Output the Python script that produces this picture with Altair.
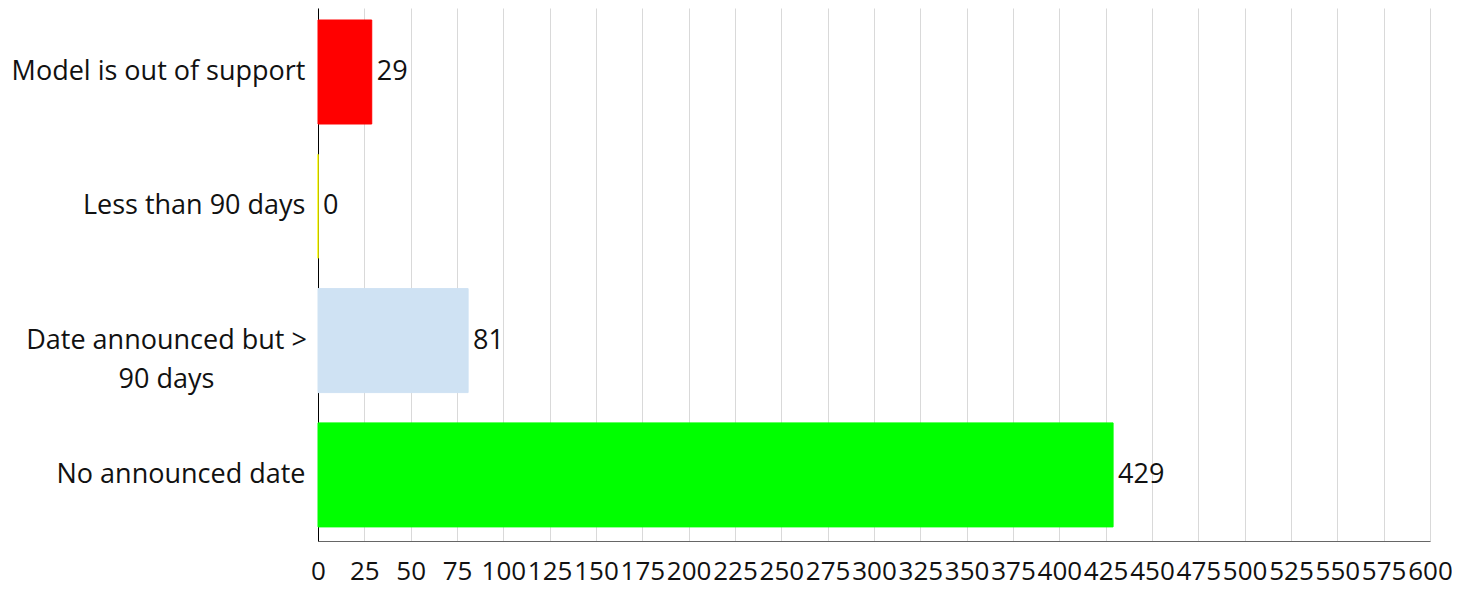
import altair as alt
import pandas as pd

categories = ["Model is out of support", "Less than 90 days", "Date announced but > 90 days", "No announced date"]
values = [29, 0, 81, 429]
colors = ["#ff0000", "#ffff00", "#cfe2f3", "#00ff00"]
x_ticks = [0, 25, 50, 75, 100, 125, 150, 175, 200, 225, 250, 275, 300, 325, 350, 375, 400, 425, 450, 475, 500, 525, 550, 575, 600]

df = pd.DataFrame({"cat": categories, "val": values})

FONT = "Open Sans"
FS = 27
WRAP = "Date announced but > 90 days"

yscale = alt.Scale(paddingInner=0.2256, paddingOuter=0.0972, align=0.46)
cscale = alt.Scale(domain=categories, range=colors)

y_enc = alt.Y("cat:N", sort=None, scale=yscale, title=None,
              axis=alt.Axis(
                  domainColor="#000000", domainWidth=1, ticks=False, tickSize=0,
                  labelFont=FONT, labelFontSize=FS, labelColor="#111111",
                  labelLimit=0, labelLineHeight=39,
                  labelExpr="datum.value == '" + WRAP + "' ? ['Date announced but >', '90 days'] : datum.value",
                  labelAlign=alt.condition("datum.value == '" + WRAP + "'", alt.value("center"), alt.value("right")),
                  labelPadding=alt.condition("datum.value == '" + WRAP + "'", alt.value(152), alt.value(13)),
                  grid=False))

x_enc = alt.X("val:Q", scale=alt.Scale(domain=[0, 600], nice=False), title=None,
              axis=alt.Axis(values=x_ticks, grid=True, gridColor="#d9d9d9", gridWidth=1,
                            domainColor="#666666", ticks=False, tickSize=0,
                            labelFont=FONT, labelFontSize=26, labelColor="#111111",
                            labelPadding=17, labelOverlap=False, labelFlush=False,
                            labelBound=False))

bars = alt.Chart(df).mark_bar(strokeWidth=1).encode(
    x=x_enc, y=y_enc,
    color=alt.Color("cat:N", scale=cscale, legend=None),
    stroke=alt.Stroke("cat:N", scale=cscale, legend=None),
)

text = alt.Chart(df).mark_text(align="left", baseline="middle", dx=5, font=FONT, fontSize=FS, color="#111111").encode(
    x="val:Q", y=alt.Y("cat:N", sort=None), text="val:Q"
)

chart = (bars + text).properties(
    width=1112, height=533,
    autosize=alt.AutoSizeParams(type="none"),
    padding={"left": 310, "top": 0, "right": 22, "bottom": 50},
).configure_view(stroke=None)

chart.save("out.html", embed_options={"renderer": "svg", "actions": False})
